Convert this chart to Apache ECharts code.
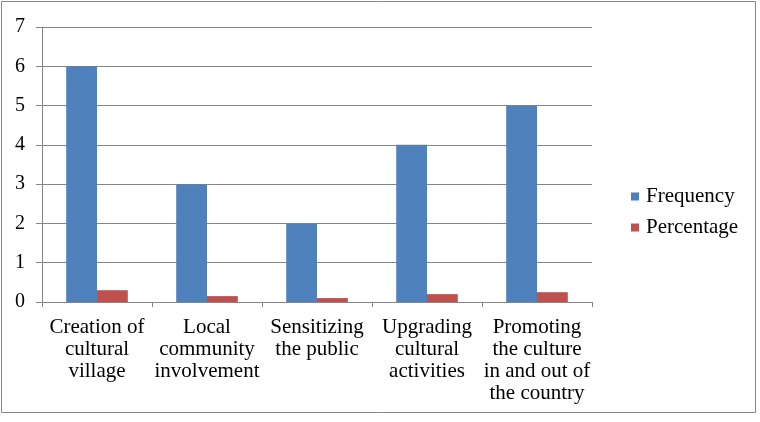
<!DOCTYPE html>
<html>
<head>
<meta charset="utf-8">
<script src="https://cdn.jsdelivr.net/npm/echarts@6/dist/echarts.min.js"></script>
<style>
html,body{margin:0;padding:0;background:#fff;}
#chart{width:760px;height:422px;}
</style>
</head>
<body>
<div id="chart"></div>
<script>
const categories = [
  "Creation of\ncultural\nvillage",
  "Local\ncommunity\ninvolvement",
  "Sensitizing\nthe public",
  "Upgrading\ncultural\nactivities",
  "Promoting\nthe culture\nin and out of\nthe country"
];
const frequency = [6, 3, 2, 4, 5];
const percentage = [0.3, 0.15, 0.1, 0.2, 0.25];
const yTicks = [0, 1, 2, 3, 4, 5, 6, 7];

const font = "'Liberation Serif', 'Times New Roman', serif";
const chart = echarts.init(document.getElementById('chart'));
chart.setOption({
  animation: false,
  graphic: [{
    type: 'rect',
    shape: {x: 1.5, y: 1.5, width: 754, height: 411},
    style: {fill: 'none', stroke: '#868686', lineWidth: 1},
    silent: true
  }],
  grid: {left: 42, right: 168, top: 27, bottom: 120},
  legend: {
    orient: 'vertical',
    left: 626,
    top: 181,
    itemWidth: 8,
    itemHeight: 8,
    itemGap: 10,
    icon: 'rect',
    textStyle: {fontFamily: font, fontSize: 21, color: '#000', lineHeight: 21, padding: [0,0,0,2]},
    data: ['Frequency', 'Percentage']
  },
  xAxis: {
    type: 'category',
    data: categories,
    axisLine: {lineStyle: {color: '#868686', width: 1}},
    axisTick: {show: true, length: 5, lineStyle: {color: '#868686'}},
    axisLabel: {interval: 0, fontFamily: font, fontSize: 21, color: '#000', lineHeight: 22, margin: 14}
  },
  yAxis: {
    type: 'value',
    min: yTicks[0],
    max: yTicks[yTicks.length - 1],
    interval: 1,
    axisLine: {show: true, lineStyle: {color: '#868686', width: 1}},
    axisTick: {show: true, length: 6, lineStyle: {color: '#868686'}},
    splitLine: {lineStyle: {color: '#868686', width: 1}},
    axisLabel: {fontFamily: font, fontSize: 20, color: '#000', margin: 17}
  },
  series: [
    {name: 'Frequency', type: 'bar', data: frequency, barGap: '0%', barCategoryGap: '44%',
     itemStyle: {color: '#4F81BD'}},
    {name: 'Percentage', type: 'bar', data: percentage, barGap: '0%', barCategoryGap: '44%',
     itemStyle: {color: '#C0504D'}}
  ]
});
</script>
</body>
</html>
